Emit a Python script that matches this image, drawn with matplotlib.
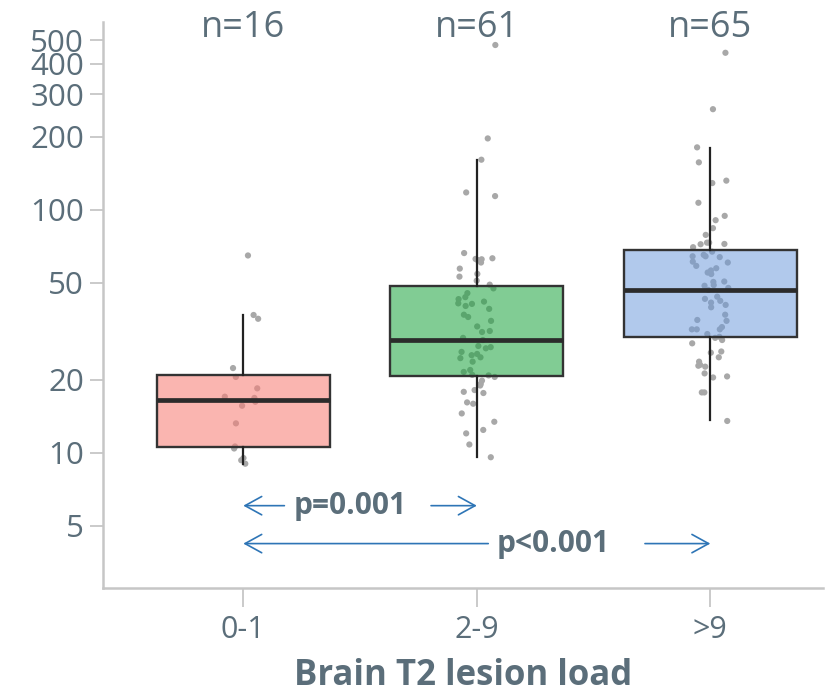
import numpy as np
import matplotlib
matplotlib.use('Agg')
import matplotlib.pyplot as plt
from matplotlib.transforms import blended_transform_factory

plt.rcParams['font.family'] = ['Open Sans', 'DejaVu Sans']

# Lesion load groups and patient counts
groups = ['0-1', '2-9', '>9']
n_counts = [16, 61, 65]

# Box summaries per group (whiskers, quartiles, median)
whislo = [8.98, 9.57, 13.6]
q1 = [10.5, 20.6, 29.9]
med = [16.5, 29.1, 46.8]
q3 = [20.9, 48.7, 68.4]
whishi = [36.9, 160.7, 179.5]

# Individual patient values
vals_01 = [64.9, 35.6, 36.9, 22.3, 20.5, 18.4, 17.0, 16.2, 16.8, 15.6, 13.2,
           10.6, 10.4, 9.3, 9.5, 9.0]
vals_29 = [478, 197, 161, 114, 118, 66.4, 60.7, 57.3, 53.1, 62.2, 62.8, 63.2,
           62.6, 54.5, 51.1, 45.4, 42.9, 43.7, 41.9, 40.2, 41.0, 41.2, 39.1,
           37.0, 36.2, 34.9, 33.1, 31.7, 31.4, 26.9, 26.0, 27.5, 25.5, 27.2,
           25.2, 24.7, 24.5, 23.7, 21.9, 21.5, 20.8, 20.9, 20.5, 18.9, 19.2,
           19.8, 17.6, 17.8, 18.1, 16.1, 15.9, 14.5, 13.4, 12.0, 12.4, 10.8,
           9.57, 29.1, 29.7, 49.2, 47.5]
vals_gt9 = [444, 260, 181, 157, 132, 129, 107, 94.5, 90.7, 84.1, 78.9, 73.3,
            72.2, 70.2, 72.4, 73.3, 67.3, 65.3, 63.9, 64.4, 64.4, 61.2, 58.8,
            60.7, 57.5, 55.2, 54.4, 50.7, 48.7, 49.0, 43.9, 43.0, 41.5, 42.2,
            40.6, 35.2, 34.9, 32.2, 32.2, 32.9, 32.2, 30.8, 29.1, 28.2, 29.7,
            26.1, 25.8, 24.7, 23.0, 23.7, 22.6, 22.8, 21.2, 20.6, 20.4, 17.7,
            17.7, 13.5, 46.8, 47.7, 56.3, 39.7, 37.0, 30.0, 50.5]

yticks = [5, 10, 20, 50, 100, 200, 300, 400, 500]

text_col = '#5b6e7a'
# translucent fills so the points behind pick up the box colour
box_cols = [(0.97, 0.50, 0.47, 0.58),
            (0.10, 0.64, 0.24, 0.55),
            (0.42, 0.60, 0.86, 0.52)]
arrow_col = '#2e75b6'

fig = plt.figure(figsize=(8.33, 6.94), dpi=100)
ax = fig.add_axes([0.1233, 0.1523, 0.8643, 0.8156])

# jittered points behind the boxes
rng = np.random.default_rng(7)
for i, v in enumerate([vals_01, vals_29, vals_gt9]):
    xs = i + rng.uniform(-0.08, 0.08, len(v))
    ax.scatter(xs, v, s=20, color='#a8a8a8', edgecolors='none', zorder=1)

stats = []
for i in range(3):
    stats.append(dict(whislo=whislo[i], q1=q1[i], med=med[i], q3=q3[i],
                      whishi=whishi[i], fliers=[]))
bp = ax.bxp(stats, positions=[0, 1, 2], widths=0.74, patch_artist=True,
            showcaps=False, showfliers=False,
            boxprops=dict(edgecolor='#333333', linewidth=1.7),
            medianprops=dict(color='#2b2b2b', linewidth=3.4),
            whiskerprops=dict(color='#222222', linewidth=1.6))
for patch, c in zip(bp['boxes'], box_cols):
    patch.set_facecolor(c)
    patch.set_zorder(2)

ax.set_yscale('log')
ax.set_ylim(2.76, 593)
ax.set_xlim(-0.602, 2.481)
ax.set_yticks(yticks)
ax.set_yticklabels([str(t) for t in yticks])
ax.yaxis.set_minor_locator(matplotlib.ticker.NullLocator())
ax.set_xticks([0, 1, 2])
ax.set_xticklabels(groups)

for s in ['top', 'right']:
    ax.spines[s].set_visible(False)
for s in ['left', 'bottom']:
    ax.spines[s].set_color('#c6c6c6')
    ax.spines[s].set_linewidth(1.8)
ax.tick_params(axis='y', length=9.5, width=1.3, color='#c6c6c6', pad=4,
               labelsize=22.5, labelcolor=text_col)
ax.tick_params(axis='x', length=13.5, width=1.3, color='#c6c6c6', pad=6,
               labelsize=22, labelcolor=text_col)
ax.set_xlabel('Brain T2 lesion load', fontsize=25, fontweight='bold',
              color=text_col, labelpad=9)

# group sizes above each box
top_tr = blended_transform_factory(ax.transData, fig.transFigure)
for i, n in enumerate(n_counts):
    ax.text(i, 0.9467, f'n={n}', transform=top_tr, ha='center',
            va='baseline', fontsize=26, color=text_col)

# pairwise comparisons
tr = blended_transform_factory(ax.transData, ax.transAxes)
arrow_kw = dict(arrowstyle='->, head_length=0.6, head_width=0.33',
                mutation_scale=20, color=arrow_col, lw=1.2,
                shrinkA=0, shrinkB=0)

def compare(x0, x1, y, label, tail0, tail1, xtext):
    ax.annotate('', xy=(x0, y), xytext=(tail0, y), xycoords=tr,
                textcoords=tr, arrowprops=arrow_kw)
    ax.annotate('', xy=(x1, y), xytext=(tail1, y), xycoords=tr,
                textcoords=tr, arrowprops=arrow_kw)
    ax.text(xtext, y, label, transform=tr, ha='center', va='center',
            fontsize=21.5, fontweight='bold', color=text_col)

compare(0, 1, 0.146, 'p=0.001', 0.176, 0.804, 0.459)
compare(0, 2, 0.079, 'p<0.001', 1.049, 1.720, 1.328)

fig.savefig('out.png', dpi=100)
